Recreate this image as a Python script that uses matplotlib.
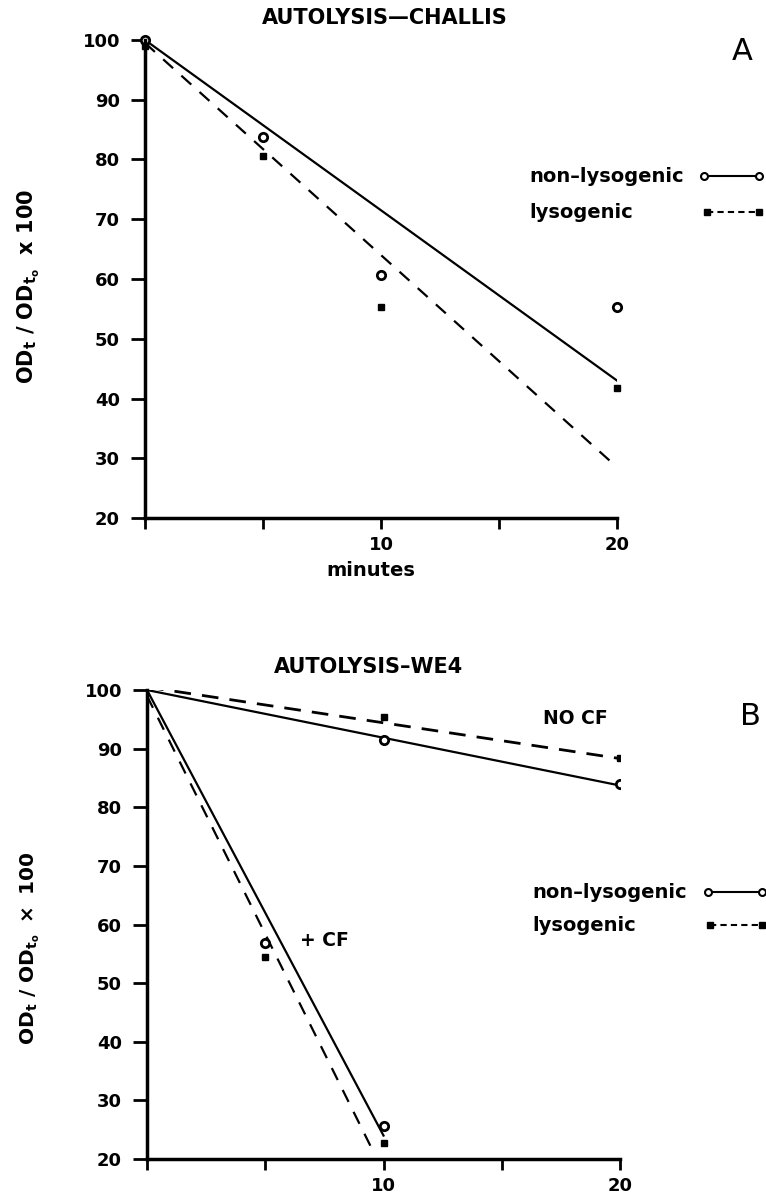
import matplotlib
matplotlib.use("Agg")
import matplotlib.pyplot as plt

plt.rcParams['font.family'] = 'DejaVu Sans'
plt.rcParams['font.weight'] = 'bold'
plt.rcParams['mathtext.default'] = 'bf'

# panel A - Challis
a_minutes = [0, 5, 10, 20]
a_nonlys = [100, 83.8, 60.6, 55.3]
a_lys = [99, 80.6, 55.3, 41.7]
a_fit_x = [0, 20]
a_nonlys_fit = [100, 43]
a_lys_fit = [99.5, 28.5]

# panel B - WE4
b_nocf_minutes = [0, 10, 20]
b_nocf_nonlys = [100, 91.5, 84]
b_nocf_lys = [100.5, 95.4, 88.4]
b_nocf_fit_x = [0, 20.5]
b_nocf_nonlys_fit = [100, 83.3]
b_nocf_lys_fit = [100.5, 88.0]

b_cf_minutes = [5, 10]
b_cf_nonlys = [56.8, 25.6]
b_cf_lys = [54.4, 22.8]
b_cf_nonlys_fit_x = [0, 10]
b_cf_nonlys_fit = [100, 24]
b_cf_lys_fit_x = [0, 9.6]
b_cf_lys_fit = [99, 21]

yticks = [20, 30, 40, 50, 60, 70, 80, 90, 100]
xticks = [0, 5, 10, 15, 20]
xticklabels = ['', '', '10', '', '20']

fig = plt.figure(figsize=(7.66, 11.97), dpi=100)
W, H = 766, 1197

def make_axes(left, right, top, bottom):
    ax = fig.add_axes([left / W, 1 - bottom / H, (right - left) / W, (bottom - top) / H])
    ax.set_xlim(0, 20)
    ax.set_ylim(20, 100)
    ax.spines['top'].set_visible(False)
    ax.spines['right'].set_visible(False)
    ax.spines['left'].set_linewidth(2.5)
    ax.spines['bottom'].set_linewidth(2.5)
    ax.set_yticks(yticks)
    ax.set_xticks(xticks)
    ax.set_xticklabels(xticklabels)
    ax.tick_params(axis='y', direction='out', length=10, width=2, labelsize=13, pad=8)
    ax.tick_params(axis='x', direction='out', length=8, width=2, labelsize=13, pad=5)
    for lab in ax.get_xticklabels() + ax.get_yticklabels():
        lab.set_fontweight('bold')
    return ax

def legend_rows(ax, y1, y2):
    # mini legend drawn in data coordinates to the right of the axes
    ax.text(16.3, y1, 'non\u2013lysogenic', fontsize=14, fontweight='bold',
            va='center', ha='left', clip_on=False)
    ax.text(16.3, y2, 'lysogenic', fontsize=14, fontweight='bold',
            va='center', ha='left', clip_on=False)
    ax.plot([23.7, 26.0], [y1, y1], '-', color='black', lw=1.5, marker='o',
            ms=5, mfc='white', mew=1.5, clip_on=False)
    ax.plot([23.8, 26.0], [y2, y2], '--', color='black', lw=1.5, marker='s',
            ms=4, dashes=(3, 2), clip_on=False)

# ---- panel A ----
ax1 = make_axes(145, 617, 40, 518)
ax1.plot(a_fit_x, a_nonlys_fit, '-', color='black', lw=1.6)
ax1.plot(a_fit_x, a_lys_fit, '--', color='black', lw=1.6, dashes=(6, 5))
ax1.plot(a_minutes, a_nonlys, 'o', color='black', ms=6, mfc='white', mew=2, clip_on=False)
ax1.plot(a_minutes, a_lys, 's', color='black', ms=4, clip_on=False)
fig.text(385 / W, 1 - 18 / H, 'AUTOLYSIS\u2014CHALLIS', fontsize=15, fontweight='bold',
         ha='center', va='center')
legend_rows(ax1, 77.2, 71.2)
ax1.text(25.3, 98, 'A', fontsize=22, fontweight='normal', ha='center', va='center', clip_on=False)
fig.text(371 / W, 1 - 571 / H, 'minutes', fontsize=14, fontweight='bold', ha='center', va='center')
fig.text(29 / W, 1 - 286 / H, r'$OD_t\ /\ OD_{t_o}\ \ x\ 100$', fontsize=15,
         rotation=90, ha='center', va='center')

# ---- panel B ----
ax2 = make_axes(147, 620, 690, 1159)
ax2.plot(b_nocf_fit_x, b_nocf_nonlys_fit, '-', color='black', lw=1.6)
ax2.plot(b_nocf_fit_x, b_nocf_lys_fit, '--', color='black', lw=2, dashes=(6, 4))
ax2.plot(b_cf_nonlys_fit_x, b_cf_nonlys_fit, '-', color='black', lw=1.6)
ax2.plot(b_cf_lys_fit_x, b_cf_lys_fit, '--', color='black', lw=1.6, dashes=(6, 5))
ax2.plot(b_nocf_minutes[1:], b_nocf_nonlys[1:], 'o', color='black', ms=6, mfc='white', mew=2)
ax2.plot(b_nocf_minutes[1:], b_nocf_lys[1:], 's', color='black', ms=4)
ax2.plot(b_cf_minutes, b_cf_nonlys, 'o', color='black', ms=6, mfc='white', mew=2)
ax2.plot(b_cf_minutes, b_cf_lys, 's', color='black', ms=4)
fig.text(369 / W, 1 - 667 / H, 'AUTOLYSIS\u2013WE4', fontsize=15, fontweight='bold',
         ha='center', va='center')
ax2.text(18.1, 95.2, 'NO CF', fontsize=13.5, fontweight='bold', ha='center', va='center')
ax2.text(7.5, 57.3, '+ CF', fontsize=13.5, fontweight='bold', ha='center', va='center')
legend_rows(ax2, 65.5, 59.9)
ax2.text(25.5, 95.4, 'B', fontsize=22, fontweight='normal', ha='center', va='center', clip_on=False)
fig.text(30 / W, 1 - 948 / H, r'$OD_t\ /\ OD_{t_o}\ \times\ 100$', fontsize=14.5,
         rotation=90, ha='center', va='center')

fig.savefig('out.png', dpi=100)
